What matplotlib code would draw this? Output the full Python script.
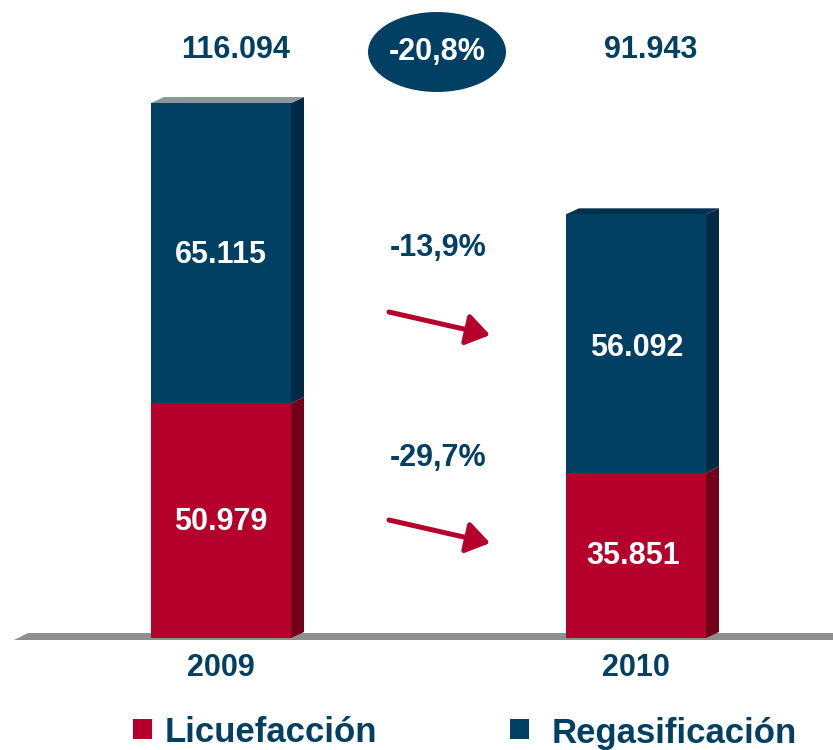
import matplotlib.pyplot as plt
from matplotlib.patches import Polygon, Ellipse

# data
years = ['2009', '2010']
licuefaccion = [50979, 35851]
regasificacion = [65115, 56092]
licu_labels = ['50.979', '35.851']
regas_labels = ['65.115', '56.092']
total_labels = ['116.094', '91.943']
change_total = '-20,8%'
change_regas = '-13,9%'
change_licu = '-29,7%'

RED = '#b5002b'
RED_SIDE = '#72001a'
NAVY = '#013f63'
NAVY_SIDE = '#012b45'
W, H = 833, 750

# pixel scale: base at y=638 px, 0.004608 px per unit
PX = 0.004608
BASE = 638

fig = plt.figure(figsize=(W / 100, H / 100), dpi=100)
ax = fig.add_axes([0, 0, 1, 1])
ax.set_xlim(0, W)
ax.set_ylim(-(H - BASE) / PX, BASE / PX)
ax.axis('off')

def px(x, y):
    # pixel coords -> data coords
    return x, (BASE - y) / PX

def txt(x, y, s, **kw):
    ax.text(*px(x, y), s, ha='center', va='center', fontweight='bold',
            family='Liberation Sans', **kw)

# floor
ax.add_patch(Polygon([px(14, 640), px(28, 633), px(W, 633), px(W, 640)],
                     closed=True, fc='#8f8f8f', ec='none', zorder=1))

centers = [221, 636]
bw = 140
dx, dy = 13, 6 / PX
ax.bar(centers, licuefaccion, width=bw, color=RED, zorder=3)
ax.bar(centers, regasificacion, width=bw, bottom=licuefaccion, color=NAVY, zorder=3)

tops = ['#8b969b', '#02304f']
for i, c in enumerate(centers):
    r = c + bw / 2
    l = c - bw / 2
    lo = licuefaccion[i]
    tot = licuefaccion[i] + regasificacion[i]
    ax.add_patch(Polygon([(r, 0), (r + dx, dy), (r + dx, lo + dy), (r, lo)],
                         fc=RED_SIDE, ec='none', zorder=2))
    ax.add_patch(Polygon([(r, lo), (r + dx, lo + dy), (r + dx, tot + dy), (r, tot)],
                         fc=NAVY_SIDE, ec='none', zorder=2))
    ax.add_patch(Polygon([(l, tot), (l + dx, tot + dy), (r + dx, tot + dy), (r, tot)],
                         fc=tops[i], ec='none', zorder=2))
    txt(c + 15, 50, total_labels[i], color=NAVY, fontsize=22)
    txt(c, 668, years[i], color=NAVY, fontsize=22)

txt(221, 522, licu_labels[0], color='white', fontsize=22, zorder=5)
txt(633, 556, licu_labels[1], color='white', fontsize=22, zorder=5)
txt(221, 255, regas_labels[0], color='white', fontsize=22, zorder=5)
txt(637, 348, regas_labels[1], color='white', fontsize=22, zorder=5)

# ellipse with total change
ax.add_patch(Ellipse(px(437, 52), 138, 80 / PX, fc=NAVY, ec='none', zorder=4))
txt(437, 52, change_total, color='white', fontsize=22, zorder=5)

txt(438, 248, change_regas, color=NAVY, fontsize=22)
txt(438, 458, change_licu, color=NAVY, fontsize=22)

for y0 in (312, 520):
    ax.annotate('', xy=px(490, y0 + 23), xytext=px(389, y0),
                arrowprops=dict(arrowstyle='-|>,head_length=1.4,head_width=0.95',
                                color=RED, lw=3.6, shrinkA=0, shrinkB=0))

# legend
ax.add_patch(Polygon([px(133, 719), px(152, 719), px(152, 739), px(133, 739)],
                     fc=RED, ec='none'))
ax.add_patch(Polygon([px(510, 719), px(529, 719), px(529, 739), px(510, 739)],
                     fc=NAVY, ec='none'))
ax.text(*px(165, 733), 'Licuefacción', ha='left', va='center', fontweight='bold',
        family='Liberation Sans', color=NAVY, fontsize=25)
ax.text(*px(552, 733), 'Regasificación', ha='left', va='center', fontweight='bold',
        family='Liberation Sans', color=NAVY, fontsize=25)

fig.savefig('out.png', dpi=100)
